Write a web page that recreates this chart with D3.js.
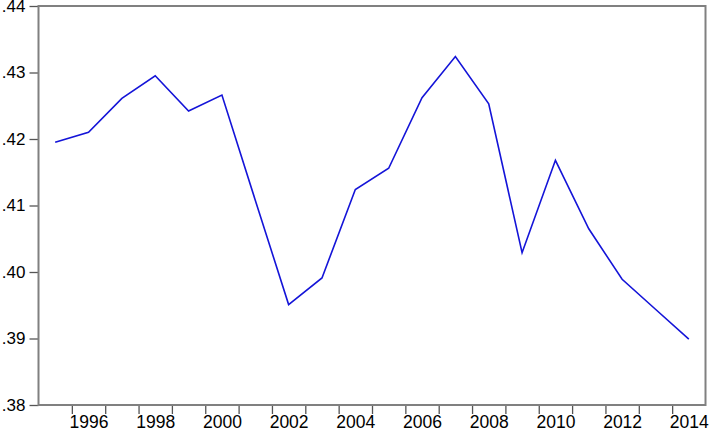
<!DOCTYPE html>
<html>
<head>
<meta charset="utf-8">
<script src="https://cdn.jsdelivr.net/npm/d3@7"></script>
<style>
    body { margin: 0; background: white; }
    svg { display: block; }
</style>
</head>
<body>
<div id="chart"></div>
<script>
var years = [1995, 1996, 1997, 1998, 1999, 2000, 2001, 2002, 2003, 2004,
             2005, 2006, 2007, 2008, 2009, 2010, 2011, 2012, 2013, 2014];
var values = [0.4195, 0.4210, 0.4261, 0.4295, 0.4242, 0.4266, 0.4108, 0.3951, 0.3991, 0.4124,
              0.4156, 0.4262, 0.4324, 0.4253, 0.4029, 0.4168, 0.4065, 0.3989, 0.3944, 0.3899];
var yTicks = [0.38, 0.39, 0.40, 0.41, 0.42, 0.43, 0.44];
var xLabels = [1996, 1998, 2000, 2002, 2004, 2006, 2008, 2010, 2012, 2014];

var w = 709, h = 432;
var margin = {left: 38.5, right: 705.5, top: 6, bottom: 405};
var axisGrey = "#808080";
var lineColor = "#1414d8";

var svg = d3.select("#chart").append("svg").attr("width", w).attr("height", h);

var x = d3.scaleLinear()
    .domain([years[0] - 0.5, years[years.length - 1] + 0.5])
    .range([margin.left, margin.right]);
var y = d3.scaleLinear()
    .domain([0.38, 0.44])
    .range([margin.bottom, margin.top]);

// tick marks at the year boundaries
var bounds = years.slice(1).map(function(d) { return d - 0.5; });
var xTickG = svg.append("g")
    .attr("transform", "translate(0," + margin.bottom + ")")
    .call(d3.axisBottom(x).tickValues(bounds).tickSize(9).tickFormat(""));
xTickG.select(".domain").remove();
xTickG.selectAll("line").attr("stroke", "#555").attr("stroke-width", 1.3);

// year labels, centred on each year
var xLabG = svg.append("g")
    .attr("transform", "translate(0," + margin.bottom + ")")
    .call(d3.axisBottom(x).tickValues(xLabels).tickSize(0).tickFormat(d3.format("d")));
xLabG.select(".domain").remove();
xLabG.selectAll("text")
    .attr("font-family", "Liberation Sans, Arial, sans-serif")
    .attr("font-size", "17.5px")
    .attr("fill", "#000")
    .attr("y", 22.5)
    .attr("dy", null);

var yAxisG = svg.append("g")
    .attr("transform", "translate(" + margin.left + ",0)")
    .call(d3.axisLeft(y).tickValues(yTicks).tickSize(9)
        .tickFormat(function(d) { return d3.format(".2f")(d).replace(/^0/, ""); }));
yAxisG.select(".domain").remove();
yAxisG.selectAll("line").attr("stroke", "#555").attr("stroke-width", 1.3);
yAxisG.selectAll("text")
    .attr("font-family", "Liberation Sans, Arial, sans-serif")
    .attr("font-size", "17px")
    .attr("fill", "#000")
    .attr("x", -13);

// frame
svg.append("rect")
    .attr("x", margin.left)
    .attr("y", margin.top)
    .attr("width", margin.right - margin.left)
    .attr("height", margin.bottom - margin.top)
    .attr("fill", "none")
    .attr("stroke", axisGrey)
    .attr("stroke-width", 2);

var line = d3.line()
    .x(function(d, i) { return x(years[i]); })
    .y(function(d) { return y(d); });

svg.append("path")
    .datum(values)
    .attr("d", line)
    .attr("fill", "none")
    .attr("stroke", lineColor)
    .attr("stroke-width", 1.6);
</script>
</body>
</html>
